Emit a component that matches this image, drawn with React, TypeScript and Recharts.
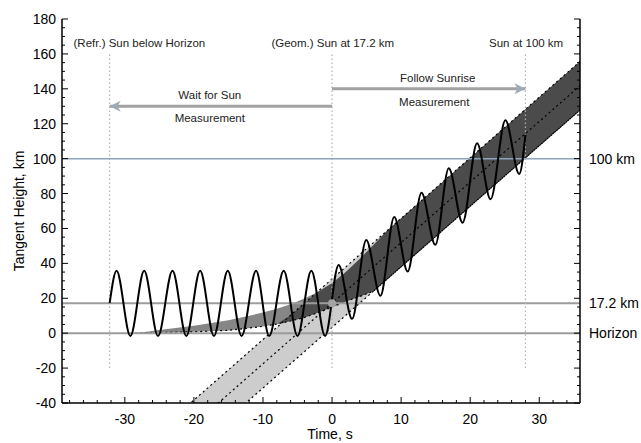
import {
  ComposedChart,
  Area,
  Line,
  XAxis,
  YAxis,
  ReferenceLine,
  ReferenceDot,
} from "recharts";

const FONT = '"Liberation Sans", Arial, Helvetica, sans-serif';

// time grid for the two sun bands (s)
const BAND_TIME = [-28.5, -25, -20, -15, -10, -8, -6, -4, -2, 0, 2, 4, 6, 8, 12, 18, 24, 30, 36];
// geometric sun: lower edge / centre / upper edge (km)
const GEOM_LOW = [-95.6, -83.4, -66.1, -48.7, -31.4, -24.4, -17.5, -10.6, -3.6, 3.3, 10.3, 17.2, 24.1, 31.1, 45.0, 65.8, 86.6, 107.4, 128.2];
const GEOM_MID = [-81.7, -69.6, -52.2, -34.9, -17.5, -10.6, -3.6, 3.3, 10.3, 17.2, 24.1, 31.1, 38.0, 45.0, 58.8, 79.7, 100.5, 121.3, 142.1];
const GEOM_HIGH = [-67.8, -55.7, -38.3, -21.0, -3.6, 3.3, 10.3, 17.2, 24.1, 31.1, 38.0, 45.0, 51.9, 58.8, 72.7, 93.5, 114.4, 135.2, 156.0];
// refracted sun: lower / upper edge (km)
const REFR_LOW = [0, 0.3, 0.8, 1.6, 3.9, 5.2, 7.0, 9.0, 11.8, 15.0, 18.2, 21.0, 24.1, 31.1, 45.0, 65.8, 86.6, 107.4, 128.2];
const REFR_HIGH = [0, 1.8, 4.2, 7.4, 11.8, 14.0, 16.6, 19.8, 23.8, 28.6, 35.0, 42.5, 50.5, 58.8, 72.7, 93.5, 114.4, 135.2, 156.0];

// scan pattern, turning points (s, km)
const SCAN_TIME = [-32.2, -31.2, -29.2, -27.2, -25.2, -23.1, -21.1, -19.1, -17.1, -15.1, -13.1, -11.0, -9.1, -7.0, -5.0, -3.0, -1.0, 0.95, 2.9, 4.95, 7.0, 9.0, 10.95, 12.95, 14.95, 16.9, 18.9, 21.0, 22.95, 25.1, 27.1, 28.0];
const SCAN_HEIGHT = [17.2, 35.8, -1.6, 35.8, -1.6, 35.8, -1.6, 35.8, -1.6, 35.8, -1.6, 35.8, -1.6, 35.8, -1.6, 35.8, -1.6, 39.1, 8.2, 53.4, 21.4, 66.6, 35.3, 80.4, 50.6, 94.5, 63.3, 108.8, 76.7, 122.0, 91.2, 113.6];

// event times (s) and marker heights (km)
const T_REFR = -32.2;
const T_GEOM = 0;
const T_100 = 28;
const H_HORIZON = 0;
const H_GEOM = 17.2;
const H_TOP = 100;

const WAIT_ARROW_T = [0, -32.2];
const WAIT_ARROW_H = 130;
const FOLLOW_ARROW_T = [0, 28];
const FOLLOW_ARROW_H = 140;

const NOTES = [
  { t: -27.9, h: 166.5, text: "(Refr.) Sun below Horizon" },
  { t: 0.1, h: 166.5, text: "(Geom.) Sun at 17.2 km" },
  { t: 28.1, h: 166.5, text: "Sun at 100 km" },
  { t: -17.7, h: 136.6, text: "Wait for Sun" },
  { t: -17.7, h: 123.3, text: "Measurement" },
  { t: 15.3, h: 146, text: "Follow Sunrise" },
  { t: 14.8, h: 132.6, text: "Measurement" },
];

const TIME_TICKS = [-38, -36, -34, -32, -30, -28, -26, -24, -22, -20, -18, -16, -14, -12, -10, -8, -6, -4, -2, 0, 2, 4, 6, 8, 10, 12, 14, 16, 18, 20, 22, 24, 26, 28, 30, 32, 34];
const HEIGHT_TICKS = [-40, -35, -30, -25, -20, -15, -10, -5, 0, 5, 10, 15, 20, 25, 30, 35, 40, 45, 50, 55, 60, 65, 70, 75, 80, 85, 90, 95, 100, 105, 110, 115, 120, 125, 130, 135, 140, 145, 150, 155, 160, 165, 170, 175, 180];

const bandRows = BAND_TIME.map((t, i) => {
  const lo = Math.max(REFR_LOW[i], GEOM_LOW[i]);
  const hi = Math.min(REFR_HIGH[i], GEOM_HIGH[i]);
  return {
    t,
    geom: [GEOM_LOW[i], GEOM_HIGH[i]],
    geomLow: GEOM_LOW[i],
    geomMid: GEOM_MID[i],
    geomHigh: GEOM_HIGH[i],
    refr: [REFR_LOW[i], REFR_HIGH[i]],
    refrLow: REFR_LOW[i],
    both: hi > lo ? [lo, hi] : [REFR_LOW[i], REFR_LOW[i]],
  };
});
const scanRows = SCAN_TIME.map((t, i) => ({ t, h: SCAN_HEIGHT[i] }));
const waitRows = WAIT_ARROW_T.map((t) => ({ t, h: WAIT_ARROW_H }));
const followRows = FOLLOW_ARROW_T.map((t) => ({ t, h: FOLLOW_ARROW_H }));

const isMajorT = (v: number) => Math.abs(v % 10) === 0;
const isMajorH = (v: number) => Math.abs(v % 20) === 0;

function BottomTick({ x, y, payload }: any) {
  const major = isMajorT(payload.value);
  return (
    <g>
      <line x1={x} x2={x} y1={y} y2={y - (major ? 6 : 3)} stroke="#000" />
      {major && (
        <text x={x} y={y + 21} textAnchor="middle" fontSize={14} fontFamily={FONT} fill="#000">
          {payload.value}
        </text>
      )}
    </g>
  );
}

function TopTick({ x, y, payload }: any) {
  const major = isMajorT(payload.value);
  return <line x1={x} x2={x} y1={y} y2={y + (major ? 6 : 3)} stroke="#000" />;
}

function LeftTick({ x, y, payload }: any) {
  const major = isMajorH(payload.value);
  return (
    <g>
      <line x1={x} x2={x + (major ? 6 : 3)} y1={y} y2={y} stroke="#000" />
      {major && (
        <text x={x - 6} y={y + 5} textAnchor="end" fontSize={14} fontFamily={FONT} fill="#000">
          {payload.value}
        </text>
      )}
    </g>
  );
}

function RightTick({ x, y, payload }: any) {
  const major = isMajorH(payload.value);
  return <line x1={x} x2={x - (major ? 6 : 3)} y1={y} y2={y} stroke="#000" />;
}

function arrowHead(dir: number) {
  return (p: any) => {
    const { cx, cy, index } = p;
    if (index === 0) return <g key={`h${index}`} />;
    const back = cx - dir * 11;
    const notch = cx - dir * 8;
    return (
      <polygon
        key={`h${index}`}
        points={`${cx},${cy} ${back},${cy - 5.5} ${notch},${cy} ${back},${cy + 5.5}`}
        fill="#9eaab7"
      />
    );
  };
}

const dotted = { stroke: "#000", strokeWidth: 1.2, strokeDasharray: "2 3" };

export default function App() {
  return (
    <div style={{ position: "absolute", left: 0, top: 0, width: 641, height: 443, background: "#fff" }}>
      <ComposedChart width={641} height={443} margin={{ top: 19, right: 0, bottom: 0, left: 0 }} style={{ fontFamily: FONT }}>
        <XAxis
          dataKey="t"
          type="number"
          domain={[-39.1, 35.9]}
          allowDataOverflow
          ticks={TIME_TICKS}
          interval={0}
          tickSize={0}
          tickMargin={0}
          tick={<BottomTick />}
          axisLine={{ stroke: "#000", strokeWidth: 1.5 }}
          height={40}
          label={{
            content: ({ viewBox }: any) => (
              <text
                x={viewBox.x + viewBox.width / 2 + 9}
                y={viewBox.y + viewBox.height - 4}
                textAnchor="middle"
                fontSize={14}
                fontFamily={FONT}
                fill="#000"
              >
                Time, s
              </text>
            ),
          }}
        />
        <XAxis
          xAxisId="top"
          orientation="top"
          type="number"
          domain={[-39.1, 35.9]}
          allowDataOverflow
          ticks={TIME_TICKS}
          interval={0}
          tickSize={0}
          tickMargin={0}
          tick={<TopTick />}
          axisLine={{ stroke: "#000", strokeWidth: 1.5 }}
          height={0}
        />
        <YAxis
          type="number"
          domain={[-40, 180]}
          allowDataOverflow
          ticks={HEIGHT_TICKS}
          interval={0}
          tickSize={0}
          tickMargin={0}
          tick={<LeftTick />}
          axisLine={{ stroke: "#000", strokeWidth: 1.5 }}
          width={62}
          label={{
            value: "Tangent Height, km",
            angle: -90,
            position: "insideLeft",
            offset: 19,
            fill: "#000",
            fontSize: 14,
            fontFamily: FONT,
            style: { textAnchor: "middle" },
          }}
        />
        <YAxis
          yAxisId="right"
          orientation="right"
          type="number"
          domain={[-40, 180]}
          allowDataOverflow
          ticks={HEIGHT_TICKS}
          interval={0}
          tickSize={0}
          tickMargin={0}
          tick={<RightTick />}
          axisLine={{ stroke: "#000", strokeWidth: 1.5 }}
          width={61}
        />

        {/* geometric sun, refracted sun, overlap */}
        <Area data={bandRows} dataKey="geom" type="linear" stroke="none" fill="#cdcdcd" fillOpacity={1} isAnimationActive={false} activeDot={false} />
        <Area data={bandRows} dataKey="refr" type="linear" stroke="none" fill="#868686" fillOpacity={1} isAnimationActive={false} activeDot={false} />
        <Area data={bandRows} dataKey="both" type="linear" stroke="none" fill="#4b4b4b" fillOpacity={1} isAnimationActive={false} activeDot={false} />
        <Line data={bandRows} dataKey="geomLow" type="linear" {...dotted} dot={false} activeDot={false} isAnimationActive={false} />
        <Line data={bandRows} dataKey="geomMid" type="linear" {...dotted} dot={false} activeDot={false} isAnimationActive={false} />
        <Line data={bandRows} dataKey="geomHigh" type="linear" {...dotted} dot={false} activeDot={false} isAnimationActive={false} />
        <Line data={bandRows} dataKey="refrLow" type="linear" {...dotted} dot={false} activeDot={false} isAnimationActive={false} />

        <ReferenceLine y={H_TOP} stroke="#8ea4bd" strokeWidth={1.5}
          label={{ value: "100 km", position: "right", offset: 9, fill: "#000", fontSize: 14, fontFamily: FONT }} />
        <ReferenceLine y={H_GEOM} stroke="#9c9c9c" strokeWidth={2}
          label={{ value: "17.2 km", position: "right", offset: 9, fill: "#000", fontSize: 14, fontFamily: FONT }} />
        <ReferenceLine y={H_HORIZON} stroke="#9c9c9c" strokeWidth={2}
          label={{ value: "Horizon", position: "right", offset: 9, fill: "#000", fontSize: 14, fontFamily: FONT }} />

        {[T_REFR, T_GEOM, T_100].map((t) => (
          <ReferenceLine key={t} segment={[{ x: t, y: -20 }, { x: t, y: 160 }]} stroke="#b0b0b0" strokeWidth={1.2} strokeDasharray="1.5 2.5" />
        ))}

        <Line data={waitRows} dataKey="h" type="linear" stroke="#a2a2a2" strokeWidth={3} dot={arrowHead(-1)} activeDot={false} isAnimationActive={false} />
        <Line data={followRows} dataKey="h" type="linear" stroke="#a2a2a2" strokeWidth={3} dot={arrowHead(1)} activeDot={false} isAnimationActive={false} />

        <Line data={scanRows} dataKey="h" type="monotone" stroke="#000" strokeWidth={2} dot={false} activeDot={false} isAnimationActive={false} />

        <ReferenceDot x={T_GEOM} y={H_GEOM} r={4} fill="#a3a3a3" stroke="none" />

        {NOTES.map((n, i) => (
          <ReferenceDot
            key={i}
            x={n.t}
            y={n.h}
            r={0}
            shape={(p: any) => (
              <text x={p.cx} y={p.cy} dy="0.35em" textAnchor="middle" fontSize={11.5} fontFamily={FONT} fill="#222">
                {n.text}
              </text>
            )}
          />
        ))}
      </ComposedChart>
    </div>
  );
}
